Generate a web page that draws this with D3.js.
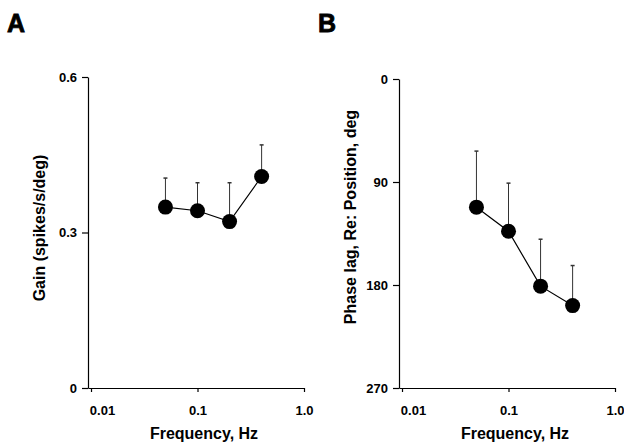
<!DOCTYPE html>
<html>
<head>
<meta charset="utf-8">
<script src="https://cdn.jsdelivr.net/npm/d3@7"></script>
<style>
    body { margin: 0; background: #fff; }
    svg text { font-family: 'Liberation Sans', Arial, sans-serif; font-weight: bold; fill: #000; }
    .axis path, .axis line { stroke: #000; stroke-width: 1.2; }
</style>
</head>
<body>
<div id="chart"></div>
<script>
/* data */
const frequencies = [0.05, 0.1, 0.2, 0.4];
const gainValues = [0.349, 0.342, 0.321, 0.408];
const gainErrTop = [0.405, 0.396, 0.396, 0.469];
const phaseValues = [112, 133, 181, 198];
const phaseErrTop = [63, 91, 140, 163];
const xTicks = [0.01, 0.1, 1.0];
const xTickLabels = ['0.01', '0.1', '1.0'];
const gainTicks = [0, 0.3, 0.6];
const gainTickLabels = ['0', '0.3', '0.6'];
const phaseTicks = [0, 90, 180, 270];
const phaseTickLabels = ['0', '90', '180', '270'];

const width = 624, height = 447;

const svg = d3.select('#chart')
    .append('svg')
    .attr('width', width)
    .attr('height', height);

function drawPanel (opts) {
    const g = svg.append('g');

    const xscale = d3.scaleLog().domain([0.00937, 1.0]).range([opts.x0, opts.x1]);
    const yscale = d3.scaleLinear().domain(opts.yDomain).range(opts.yRange);

    // x axis
    const xAxis = d3.axisBottom(xscale)
        .tickValues(xTicks)
        .tickFormat((d, i) => xTickLabels[i])
        .tickSizeInner(4)
        .tickSizeOuter(0)
        .tickPadding(14);

    g.append('g')
        .attr('class', 'axis')
        .attr('transform', `translate(0, ${opts.axisY})`)
        .call(xAxis)
        .selectAll('text')
        .style('font-size', '13px')
        // first label sits a bit right of its tick in the original
        .attr('dx', (d, i) => i === 0 ? 11 : 0);

    // y axis
    const yAxis = d3.axisLeft(yscale)
        .tickValues(opts.yTicks)
        .tickFormat((d, i) => opts.yTickLabels[i])
        .tickSizeInner(6)
        .tickSizeOuter(0)
        .tickPadding(5);

    g.append('g')
        .attr('class', 'axis')
        .attr('transform', `translate(${opts.x0}, 0)`)
        .call(yAxis)
        .selectAll('text')
        .style('font-size', '13px');

    g.selectAll('.domain').attr('fill', 'none');

    // error bars (upper only)
    const bars = g.append('g').attr('class', 'errbars');
    frequencies.forEach((f, i) => {
        const cx = xscale(f);
        bars.append('line')
            .attr('x1', cx).attr('x2', cx)
            .attr('y1', yscale(opts.values[i]))
            .attr('y2', yscale(opts.errTop[i]))
            .attr('stroke', '#333')
            .attr('stroke-width', 1);
        bars.append('line')
            .attr('x1', cx - 2).attr('x2', cx + 2)
            .attr('y1', yscale(opts.errTop[i]))
            .attr('y2', yscale(opts.errTop[i]))
            .attr('stroke', '#333')
            .attr('stroke-width', 1.5);
    });

    // connecting line
    const line = d3.line()
        .x((d, i) => xscale(frequencies[i]))
        .y(d => yscale(d));

    g.append('path')
        .datum(opts.values)
        .attr('d', line)
        .attr('fill', 'none')
        .attr('stroke', '#000')
        .attr('stroke-width', 1.2);

    g.selectAll('.dot')
        .data(opts.values)
        .enter()
        .append('circle')
        .attr('class', 'dot')
        .attr('cx', (d, i) => xscale(frequencies[i]))
        .attr('cy', d => yscale(d))
        .attr('r', 7.5)
        .attr('fill', '#000');

    // titles
    g.append('text')
        .attr('x', (opts.x0 + opts.x1) / 2 + 8)
        .attr('y', 439)
        .style('text-anchor', 'middle')
        .style('font-size', '16px')
        .text('Frequency, Hz');

    g.append('text')
        .attr('transform', `translate(${opts.yTitleX}, ${opts.yTitleY}) rotate(-90)`)
        .style('text-anchor', 'middle')
        .style('font-size', '16px')
        .text(opts.yTitle);

    g.append('text')
        .attr('x', opts.letterX)
        .attr('y', 32)
        .style('font-size', '25px')
        .style('stroke', '#000')
        .style('stroke-width', 0.8)
        .text(opts.letter);
}

drawPanel({
    letter: 'A', letterX: 7,
    x0: 88, x1: 304, axisY: 388,
    yDomain: [0, 0.6], yRange: [388, 77],
    yTicks: gainTicks, yTickLabels: gainTickLabels,
    values: gainValues, errTop: gainErrTop,
    yTitle: 'Gain (spikes/s/deg)', yTitleX: 45, yTitleY: 228
});

drawPanel({
    letter: 'B', letterX: 318,
    x0: 399, x1: 615, axisY: 388,
    yDomain: [0, 270], yRange: [79, 388],
    yTicks: phaseTicks, yTickLabels: phaseTickLabels,
    values: phaseValues, errTop: phaseErrTop,
    yTitle: 'Phase lag, Re: Position, deg', yTitleX: 356, yTitleY: 217
});
</script>
</body>
</html>
